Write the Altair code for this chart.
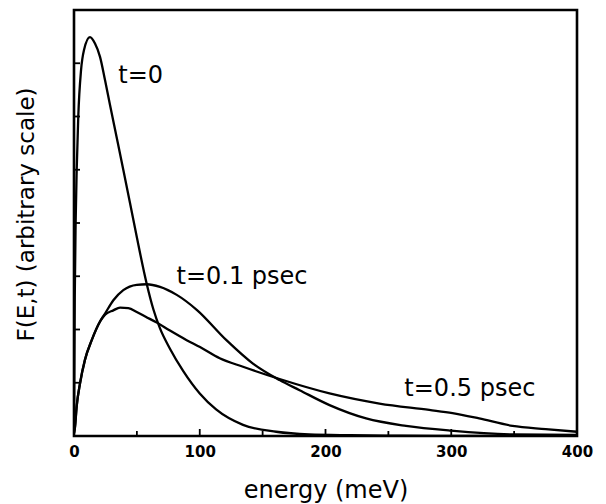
import altair as alt
import pandas as pd

# ---- data ----
e_t0 = [0, 0.6, 1.35, 2.15, 3.4, 5.6, 7.95, 12.7, 16.7, 20.7, 24.7, 28.6, 34.0, 39.2,
        44.5, 49.9, 57.8, 63.1, 68.4, 76.3, 86.9, 100.0, 113.0, 134.4, 160.8,
        187, 220, 260, 300, 400]
f_t0 = [0.2, 2.6, 4.06, 5.0, 6.0, 6.87, 7.25, 7.49, 7.37, 7.12, 6.68, 6.22, 5.6, 5.0,
        4.38, 3.74, 2.86, 2.38, 2.02, 1.64, 1.22, 0.80, 0.50, 0.21, 0.08,
        0.03, 0.015, 0.005, 0.0, 0.0]

e_t01 = [0, 0.8, 2.1, 4.8, 8.7, 14.1, 20.7, 24.7, 31.3, 39.2, 49.9, 57.8, 68.4, 81.7,
         97.6, 121.2, 142.3, 163.5, 179.4, 203.2, 232.3, 264, 299.8, 348.7, 400]
f_t01 = [0.05, 0.17, 0.55, 0.99, 1.43, 1.80, 2.15, 2.30, 2.55, 2.74, 2.84, 2.85, 2.80, 2.65,
         2.37, 1.80, 1.36, 1.05, 0.86, 0.58, 0.33, 0.19, 0.10, 0.03, 0.02]

e_t05 = [0, 0.8, 2.1, 4.8, 8.7, 14.1, 20.7, 24.7, 31.3, 36.6, 43.2, 49.9, 57.0, 65.8,
         76.3, 89.6, 100.2, 115.9, 134.4, 163.5, 203.2, 242.9, 282.5, 301, 322.2,
         348.7, 375.1, 400]
f_t05 = [0.05, 0.17, 0.55, 0.99, 1.43, 1.80, 2.15, 2.28, 2.36, 2.41, 2.40, 2.33, 2.24, 2.13,
         1.98, 1.80, 1.67, 1.46, 1.30, 1.07, 0.80, 0.61, 0.49, 0.43, 0.33,
         0.19, 0.13, 0.08]

label_text = ["t=0", "t=0.1 psec", "t=0.5 psec"]
label_e = [35.2, 81.5, 262.7]
label_f = [6.76, 2.99, 0.88]

x_major = [0, 100, 200, 300, 400]
x_minor = [50, 150, 250, 350]
y_ticks = [1, 2, 3, 4, 5, 6, 7]

# ---- tables ----
rows = []
for name, es, fs in [("t=0", e_t0, f_t0), ("t=0.1", e_t01, f_t01), ("t=0.5", e_t05, f_t05)]:
    for i, (e, f) in enumerate(zip(es, fs)):
        rows.append({"curve": name, "order": i, "energy": e, "F": f})
curves = pd.DataFrame(rows)
labels = pd.DataFrame({"text": label_text, "energy": label_e, "F": label_f})
xmaj = pd.DataFrame({"energy": x_major})
xmin = pd.DataFrame({"energy": x_minor})
yt = pd.DataFrame({"F": y_ticks})

FONT = "DejaVu Sans"
W, H = 503, 426

xscale = alt.Scale(domain=[0, 400], nice=False, zero=False)
yscale = alt.Scale(domain=[0, 8], nice=False, zero=False)

xaxis = alt.Axis(values=x_major, ticks=False, domain=False, grid=False,
                 labelFont=FONT, labelFontSize=15, labelFontWeight="bold",
                 labelColor="black", labelPadding=8, labelFlush=False,
                 title="energy (meV)", titleFont=FONT, titleFontSize=24,
                 titleFontWeight="normal", titleColor="black",
                 titleY=61, titleBaseline="alphabetic")
yaxis = alt.Axis(labels=False, ticks=False, domain=False, grid=False,
                 title="F(E,t) (arbitrary scale)", titleFont=FONT, titleFontSize=23,
                 titleFontWeight="normal", titleColor="black",
                 titleAngle=270, titleX=-41, titleY=204,
                 titleAlign="center", titleBaseline="alphabetic")

lines = alt.Chart(curves).mark_line(
    color="black", strokeWidth=2.3, interpolate="monotone", clip=True
).encode(
    x=alt.X("energy:Q", scale=xscale, axis=xaxis),
    y=alt.Y("F:Q", scale=yscale, axis=yaxis),
    detail="curve:N",
    order="order:Q",
)

texts = alt.Chart(labels).mark_text(
    font=FONT, fontSize=24, align="left", baseline="middle", color="black"
).encode(
    x=alt.X("energy:Q", scale=xscale),
    y=alt.Y("F:Q", scale=yscale),
    text="text:N",
)

major_ticks = alt.Chart(xmaj).mark_rule(color="black", strokeWidth=1.8).encode(
    x=alt.X("energy:Q", scale=xscale),
    y=alt.value(H), y2=alt.value(H - 7),
)
minor_ticks = alt.Chart(xmin).mark_rule(color="black", strokeWidth=1.8).encode(
    x=alt.X("energy:Q", scale=xscale),
    y=alt.value(H), y2=alt.value(H - 5),
)
left_ticks = alt.Chart(yt).mark_rule(color="black", strokeWidth=1.8).encode(
    y=alt.Y("F:Q", scale=yscale),
    x=alt.value(0), x2=alt.value(6),
)

chart = alt.layer(lines, major_ticks, minor_ticks, left_ticks, texts).properties(
    width=W, height=H,
    autosize=alt.AutoSizeParams(type="none"),
    padding={"left": 74, "top": 10, "right": 606 - 74 - W, "bottom": 504 - 10 - H},
    background="white",
).configure_view(
    stroke="black", strokeWidth=2.6, fill="white"
)

chart.save("out.html", embed_options={"renderer": "svg", "actions": False})
